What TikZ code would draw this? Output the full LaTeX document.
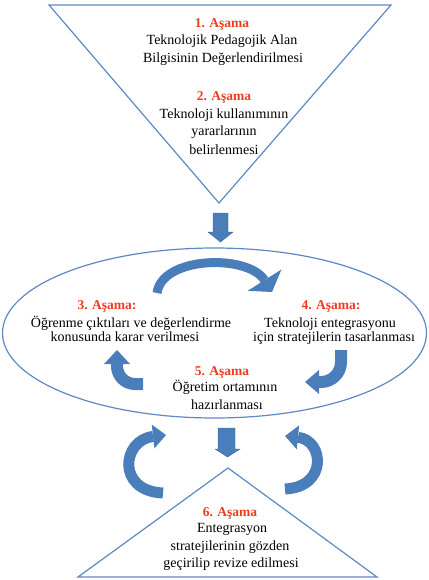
\documentclass[tikz,border=0pt]{standalone}
\usepackage{fontspec}
\setmainfont{Liberation Serif}
\usetikzlibrary{arrows.meta}
\definecolor{titlered}{RGB}{240,58,30}
\definecolor{arrowblue}{RGB}{74,126,187}
\definecolor{lineblue}{RGB}{92,136,196}
\begin{document}
\begin{tikzpicture}[x=1pt,y=-1pt,
  txt/.style={font=\fontsize{14}{16}\selectfont, inner sep=0pt, anchor=base},
  ttl/.style={txt, text=titlered, font=\fontsize{13.5}{16}\selectfont\bfseries},
  outline/.style={draw=lineblue, line width=1.2pt},
  blockarrow/.style={fill=arrowblue, draw=arrowblue!80!black, line width=0.4pt},
  bendarrow/.style={draw=arrowblue, line cap=butt}]
\useasboundingbox (0,0) rectangle (428,580);
% shapes
\draw[outline] (49,5) -- (391,5) -- (219,203) -- cycle;
\draw[outline] (214.5,333) ellipse [x radius=212pt, y radius=85pt];
\draw[outline] (228,468) -- (377,577) -- (78,577) -- cycle;
% straight block arrows
\draw[blockarrow] (213,213) -- (228,213) -- (228,232) -- (233,232) -- (220.5,242) -- (208,232) -- (213,232) -- cycle;
\draw[blockarrow] (218,428) -- (235,428) -- (235,449) -- (240,449) -- (227.5,457) -- (215,449) -- (218,449) -- cycle;
% curved arrows
\draw[bendarrow, line width=9pt, -{Triangle[width=40pt,length=14pt,line width=0pt]}]
  (157,293) .. controls (162,256) and (248,254) .. (272,292);
\draw[bendarrow, line width=12pt, -{Triangle[width=24pt,length=14pt,line width=0pt]}]
  (341,350) -- (341,362) to[out=-90,in=0] (321,382) -- (305,382);
\draw[bendarrow, line width=12pt, -{Triangle[width=26pt,length=14pt,line width=0pt]}]
  (143,384) -- (135,384) to[out=180,in=-90] (117,366) -- (117,350);
\draw[bendarrow, line width=11pt, -{Triangle[width=24pt,length=13pt,line width=0pt]}]
  (163,493) .. controls (116,491) and (122,440) .. (166,435);
\draw[bendarrow, line width=11pt, -{Triangle[width=24pt,length=13pt,line width=0pt]}]
  (285,489) .. controls (328,487) and (324,440) .. (285,436);
% stage 1
\node[ttl] (t1) at (222,27.5) {1. Aşama};
\node[txt] (l1a) at (222,44.5) {Teknolojik Pedagojik Alan};
\node[txt] (l1b) at (223,62.5) {Bilgisinin Değerlendirilmesi};
% stage 2
\node[ttl] (t2) at (224,101) {2. Aşama};
\node[txt] (l2a) at (224,119) {Teknoloji kullanımının};
\node[txt] (l2b) at (224,136) {yararlarının};
\node[txt] (l2c) at (224,154) {belirlenmesi};
% stage 3
\node[ttl] (t3) at (107,309) {3. Aşama:};
\node[txt] (l3a) at (131,327) {Öğrenme çıktıları ve değerlendirme};
\node[txt] (l3b) at (125,341) {konusunda karar verilmesi};
% stage 4
\node[ttl] (t4) at (331,309) {4. Aşama:};
\node[txt] (l4a) at (330,327) {Teknoloji entegrasyonu};
\node[txt] (l4b) at (334,341) {için stratejilerin tasarlanması};
% stage 5
\node[ttl] (t5) at (222,375) {5. Aşama};
\node[txt] (l5a) at (225,391) {Öğretim ortamının};
\node[txt] (l5b) at (227,409) {hazırlanması};
% stage 6
\node[ttl] (t6) at (230,516) {6. Aşama};
\node[txt] (l6a) at (232,532) {Entegrasyon};
\node[txt] (l6b) at (230,550) {stratejilerinin gözden};
\node[txt] (l6c) at (231,567) {geçirilip revize edilmesi};
\end{tikzpicture}
\end{document}
